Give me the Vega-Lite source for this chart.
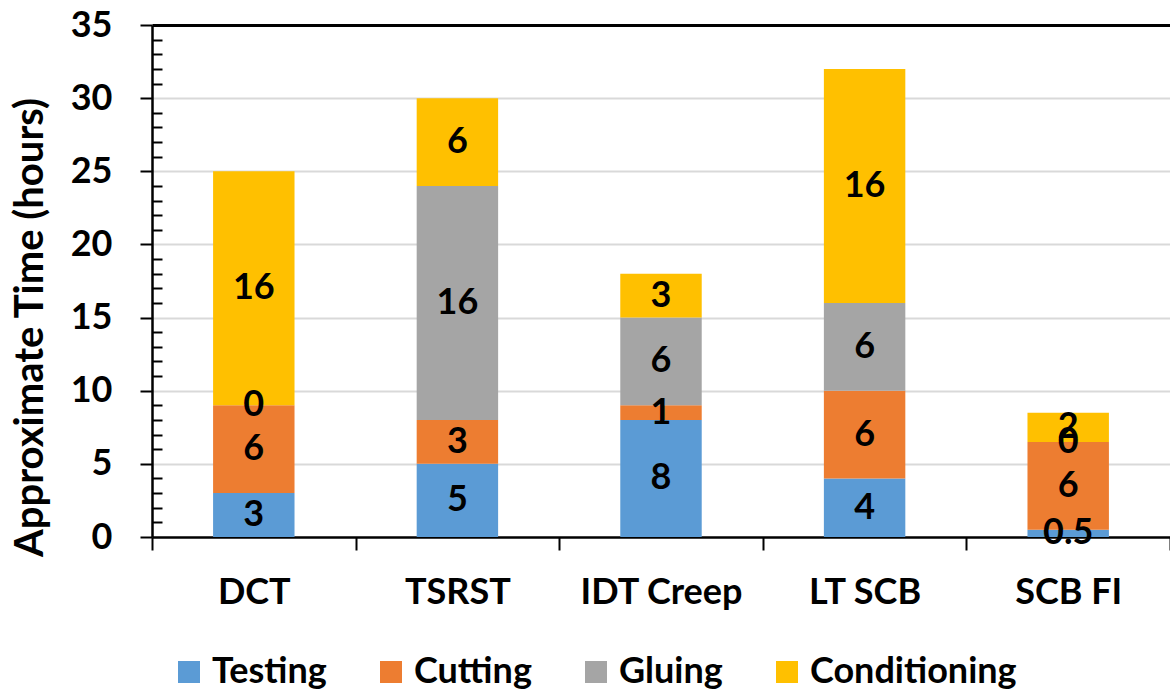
{
  "$schema": "https://vega.github.io/schema/vega-lite/v6.json",
  "width": 1018,
  "height": 512,
  "autosize": {"type": "none"},
  "padding": {"left": 152, "top": 25, "right": 0, "bottom": 154},
  "config": {"view": {"stroke": null}, "font": "Lato"},
  "data": {
    "values": [
      {"test": "DCT", "task": "Testing", "hours": 3},
      {"test": "DCT", "task": "Cutting", "hours": 6},
      {"test": "DCT", "task": "Gluing", "hours": 0},
      {"test": "DCT", "task": "Conditioning", "hours": 16},
      {"test": "TSRST", "task": "Testing", "hours": 5},
      {"test": "TSRST", "task": "Cutting", "hours": 3},
      {"test": "TSRST", "task": "Gluing", "hours": 16},
      {"test": "TSRST", "task": "Conditioning", "hours": 6},
      {"test": "IDT Creep", "task": "Testing", "hours": 8},
      {"test": "IDT Creep", "task": "Cutting", "hours": 1},
      {"test": "IDT Creep", "task": "Gluing", "hours": 6},
      {"test": "IDT Creep", "task": "Conditioning", "hours": 3},
      {"test": "LT SCB", "task": "Testing", "hours": 4},
      {"test": "LT SCB", "task": "Cutting", "hours": 6},
      {"test": "LT SCB", "task": "Gluing", "hours": 6},
      {"test": "LT SCB", "task": "Conditioning", "hours": 16},
      {"test": "SCB FI", "task": "Testing", "hours": 0.5},
      {"test": "SCB FI", "task": "Cutting", "hours": 6},
      {"test": "SCB FI", "task": "Gluing", "hours": 0},
      {"test": "SCB FI", "task": "Conditioning", "hours": 2}
    ]
  },
  "transform": [
    {"calculate": "indexof(['Testing','Cutting','Gluing','Conditioning'], datum.task)", "as": "ord"},
    {"stack": "hours", "groupby": ["test"], "sort": [{"field": "ord", "order": "ascending"}], "as": ["y0", "y1"]},
    {"calculate": "(datum.y0 + datum.y1) / 2", "as": "mid"}
  ],
  "encoding": {
    "x": {
      "field": "test",
      "type": "nominal",
      "sort": ["DCT", "TSRST", "IDT Creep", "LT SCB", "SCB FI"],
      "scale": {"paddingInner": 0, "paddingOuter": 0},
      "axis": {
        "title": null,
        "labelAngle": 0,
        "tickBand": "extent",
        "tickSize": 13,
        "tickWidth": 2,
        "tickColor": "black",
        "domainColor": "black",
        "domainWidth": 2.5,
        "labelFont": "Lato",
        "labelFontSize": 36,
        "labelFontWeight": "bold",
        "labelColor": "black",
        "labelPadding": 25
      }
    }
  },
  "layer": [
    {
      "mark": {"type": "bar", "width": {"band": 0.4}},
      "encoding": {
        "y": {
          "field": "y1",
          "type": "quantitative",
          "scale": {"domain": [0, 35], "nice": false},
          "axis": {
            "values": [0,1,2,3,4,5,6,7,8,9,10,11,12,13,14,15,16,17,18,19,20,21,22,23,24,25,26,27,28,29,30,31,32,33,34,35],
            "tickCount": 40,
            "labelExpr": "datum.value % 5 === 0 ? datum.label : ''",
            "labelOverlap": false,
            "labelBound": false,
            "tickSize": {"condition": {"test": "datum.value % 5 !== 0", "value": -10}, "value": 12},
            "tickWidth": 2,
            "tickColor": "black",
            "grid": true,
            "gridOpacity": {"condition": {"test": "datum.value % 5 === 0 && datum.value > 0", "value": 1}, "value": 0},
            "gridColor": {"condition": {"test": "datum.value === 35", "value": "black"}, "value": "#d9d9d9"},
            "gridWidth": {"condition": {"test": "datum.value === 35", "value": 3}, "value": 2},
            "domainColor": "black",
            "domainWidth": 2.5,
            "labelFont": "Lato",
            "labelFontSize": 36,
            "labelFontWeight": "bold",
            "labelColor": "black",
            "labelPadding": 28,
            "title": "Approximate Time (hours)",
            "titleFont": "Lato",
            "titleFontSize": 40,
            "titleFontWeight": "bold",
            "titleColor": "black",
            "titleAngle": -90,
            "titleX": -122,
            "titleY": 302,
            "titleAlign": "center",
            "titleBaseline": "middle"
          }
        },
        "y2": {"field": "y0"},
        "color": {
          "field": "task",
          "type": "nominal",
          "scale": {
            "domain": ["Testing", "Cutting", "Gluing", "Conditioning"],
            "range": ["#5B9BD5", "#ED7D31", "#A5A5A5", "#FFC000"]
          },
          "legend": {
            "orient": "none",
            "legendX": 19,
            "legendY": 629,
            "direction": "horizontal",
            "title": null,
            "symbolType": "square",
            "symbolSize": 484,
            "symbolStrokeWidth": 0,
            "labelFont": "Lato",
            "labelFontSize": 36,
            "labelFontWeight": "bold",
            "labelColor": "black",
            "labelOffset": 5,
            "columnPadding": 46,
            "labelLimit": 400
          }
        }
      }
    },
    {
      "mark": {"type": "text", "font": "Lato", "fontWeight": "bold", "fontSize": 36, "color": "black", "baseline": "middle"},
      "encoding": {
        "y": {"field": "mid", "type": "quantitative"},
        "text": {"field": "hours", "type": "quantitative"}
      }
    }
  ]
}
